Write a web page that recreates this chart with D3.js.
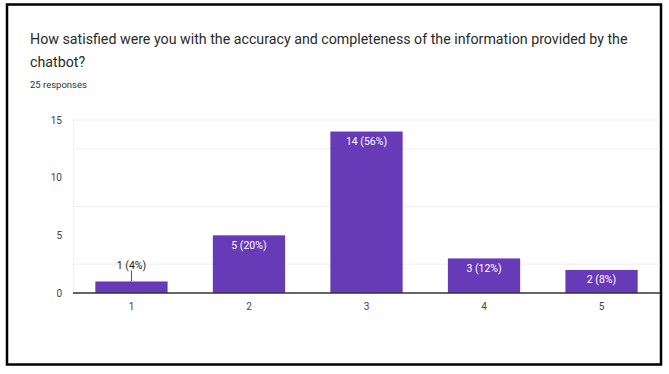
<!DOCTYPE html>
<html><head><meta charset="utf-8">
<script src="https://cdn.jsdelivr.net/npm/d3@7"></script>
<style>body{margin:0;background:#fff;}svg{display:block;}</style>
</head><body>
<svg id="c" width="669" height="374"></svg>
<script>
const categories = ["1", "2", "3", "4", "5"];
const counts = [1, 5, 14, 3, 2];
const percents = ["4%", "20%", "56%", "12%", "8%"];
const yTicks = [0, 5, 10, 15];
const gridValues = [2.5, 7.5, 12.5, 15];
const titleLines = ["How satisfied were you with the accuracy and completeness of the information provided by the", "chatbot?"];
const subtitle = "25 responses";

const svg = d3.select("#c");
const font = "Roboto, 'Noto Sans', Arial, sans-serif";

svg.append("rect").attr("x", 7).attr("y", 4.5).attr("width", 654).attr("height", 360)
  .attr("fill", "#fff").attr("stroke", "#000").attr("stroke-width", 2.5);

const t1 = svg.append("text").attr("x", 30).attr("y", 44).attr("font-family", font)
  .attr("font-size", 14.5).attr("fill", "#2a2a2a").text(titleLines[0]);
const w = t1.node().getComputedTextLength();
const fs = 14.5 * 598 / w;
t1.attr("font-size", fs);
svg.append("text").attr("x", 30).attr("y", 66.5).attr("font-family", font)
  .attr("font-size", fs).attr("fill", "#2a2a2a").text(titleLines[1]);
svg.append("text").attr("x", 30).attr("y", 87.5).attr("font-family", font)
  .attr("font-size", 9.5).attr("fill", "#333").text(subtitle);

const x = d3.scaleBand().domain(categories).range([73, 660]).paddingInner(0.385).paddingOuter(0.19);
const y = d3.scaleLinear().domain([0, 15]).range([293, 120]);

// gridlines
svg.append("g").selectAll("line").data(gridValues).join("line")
  .attr("x1", 73).attr("x2", 660).attr("y1", d => y(d)).attr("y2", d => y(d))
  .attr("stroke", "#eeeeee").attr("stroke-width", 1);
svg.append("line").attr("x1", 73.5).attr("x2", 73.5).attr("y1", y(15)).attr("y2", y(0))
  .attr("stroke", "#f0f0f0").attr("stroke-width", 1);

// y axis labels
const ya = svg.append("g").attr("transform", "translate(73,0)")
  .call(d3.axisLeft(y).tickValues(yTicks).tickSize(0).tickPadding(11).tickFormat(d3.format("d")));
ya.select(".domain").remove();
ya.selectAll("text").attr("font-family", font).attr("font-size", 10).attr("fill", "#444");

// bars
svg.append("g").selectAll("rect").data(counts).join("rect")
  .attr("x", (d, i) => x(categories[i])).attr("width", x.bandwidth())
  .attr("y", d => y(d)).attr("height", d => y(0) - y(d))
  .attr("fill", "#673ab7");

// x axis
const xa = svg.append("g").attr("transform", "translate(0,293)")
  .call(d3.axisBottom(x).tickSize(0).tickPadding(10));
xa.select(".domain").attr("stroke", "#333").attr("stroke-width", 1.5).attr("d", "M73,0H660");
xa.selectAll("text").attr("font-family", font).attr("font-size", 10).attr("fill", "#444");

// value labels
counts.forEach((d, i) => {
  const cx = x(categories[i]) + x.bandwidth() / 2;
  const label = d + " (" + percents[i] + ")";
  const inside = (y(0) - y(d)) > 18;
  if (inside) {
    svg.append("text").attr("x", cx).attr("y", y(d) + 13.5).attr("text-anchor", "middle")
      .attr("font-family", font).attr("font-size", 10.5).attr("fill", "#fff").text(label);
  } else {
    svg.append("line").attr("x1", cx).attr("x2", cx).attr("y1", y(d) - 11).attr("y2", y(d))
      .attr("stroke", "#555").attr("stroke-width", 1);
    svg.append("text").attr("x", cx).attr("y", y(d) - 12.5).attr("text-anchor", "middle")
      .attr("font-family", font).attr("font-size", 10.5).attr("fill", "#222").text(label);
  }
});
</script>
</body></html>
